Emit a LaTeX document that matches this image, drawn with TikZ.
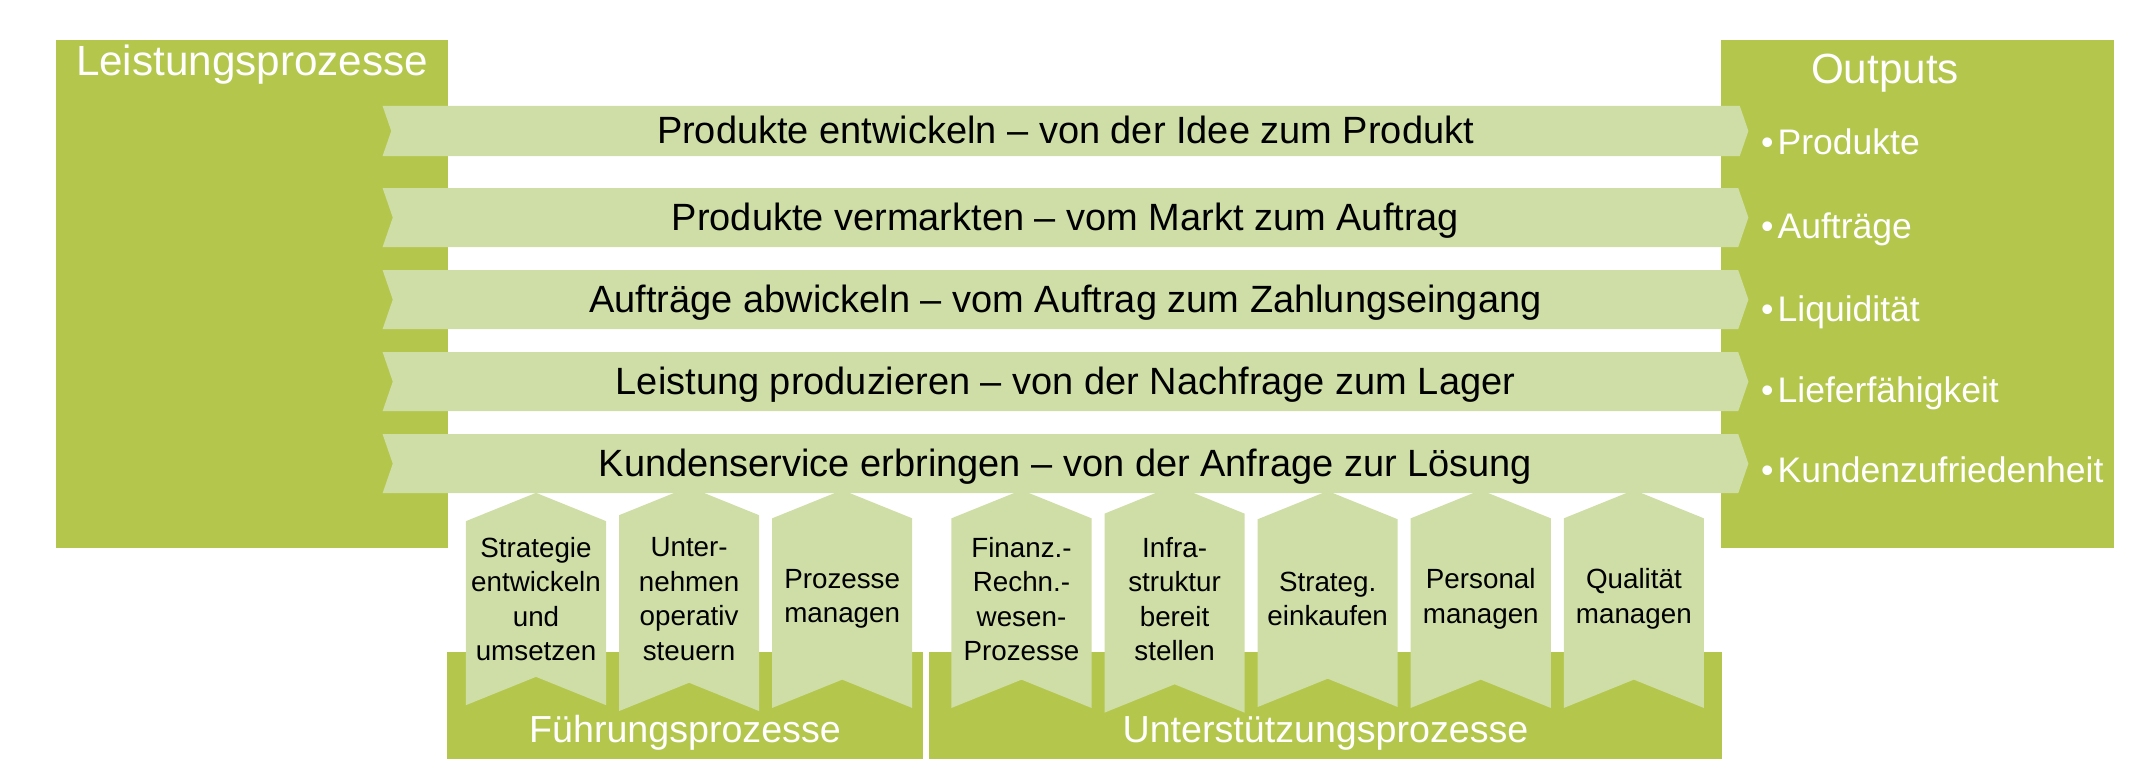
\documentclass[tikz,border=0pt]{standalone}
\usepackage{fontspec}
\setmainfont{Liberation Sans}
\usetikzlibrary{shapes.symbols,positioning}
\definecolor{procgreen}{RGB}{180,199,76}
\definecolor{flowgreen}{RGB}{206,222,166}

\begin{document}
\begin{tikzpicture}[
  x=0.01cm, y=-0.01cm,
  inner sep=0pt, outer sep=0pt,
  procarea/.style={fill=procgreen, minimum width=3.92cm, minimum height=5.08cm},
  groupbase/.style={fill=procgreen, minimum height=1.07cm},
  flow/.style={shape=signal, signal to=east, signal from=west, signal pointer angle=142,
               fill=flowgreen, minimum width=13.65cm, minimum height=0.59cm,
               font=\fontsize{10.8}{12}\selectfont, text height=0.716em, text depth=0pt},
  subproc/.style={shape=signal, signal to=north, signal from=south, signal pointer angle=136,
                  fill=flowgreen, minimum width=1.4cm, minimum height=2.08cm, align=center,
                  font=\fontsize{7.9}{9.8}\selectfont},
  areatitle/.style={text=white, font=\fontsize{12}{14}\selectfont, text height=0.716em, text depth=0pt},
  outitem/.style={text=white, anchor=base west, font=\fontsize{10.1}{12}\selectfont},
  grouplbl/.style={text=white, font=\fontsize{10.7}{12}\selectfont, text height=0.716em, text depth=0pt},
  ]
  \useasboundingbox (0,0) rectangle (2154,777);

  % green areas
  \node[procarea] (leist) at (252,294) {};
  \node[procarea] (outputs) at (1917.5,294) {};
  \node[groupbase, minimum width=4.76cm] (fbase) at (685,705.5) {};
  \node[groupbase, minimum width=7.93cm] (ubase) at (1325.5,705.5) {};

  % core processes
  \node[flow, minimum height=0.5cm] (p1) at (1065.5,131) {Produkte entwickeln -- von der Idee zum Produkt};
  \node[flow, below=0.32cm of p1] (p2) {Produkte vermarkten -- vom Markt zum Auftrag};
  \node[flow, below=0.23cm of p2] (p3) {Aufträge abwickeln -- vom Auftrag zum Zahlungseingang};
  \node[flow, below=0.23cm of p3] (p4) {Leistung produzieren -- von der Nachfrage zum Lager};
  \node[flow, below=0.23cm of p4] (p5) {Kundenservice erbringen -- von der Anfrage zur Lösung};

  % management processes
  \node[subproc] (f1) at (536,599) {Strategie\\entwickeln\\und\\umsetzen};
  \node[subproc, right=0.13cm of f1] (f2) {Unter-\\nehmen\\operativ\\steuern};
  \node[subproc, right=0.13cm of f2] (f3) {Prozesse\\managen};

  % support processes
  \node[subproc] (u1) at (1021.5,599) {Finanz.-\\Rechn.-\\wesen-\\Prozesse};
  \node[subproc, right=0.13cm of u1] (u2) {Infra-\\struktur\\bereit\\stellen};
  \node[subproc, right=0.13cm of u2] (u3) {Strateg.\\einkaufen};
  \node[subproc, right=0.13cm of u3] (u4) {Personal\\managen};
  \node[subproc, right=0.13cm of u4] (u5) {Qualität\\managen};

  % labels
  \node[areatitle] (leistlbl) at (252,63) {Leistungsprozesse};
  \node[areatitle] (outlbl) at (1885,71) {Outputs};
  \node[grouplbl] (flbl) at (685,730) {Führungsprozesse};
  \node[grouplbl] (ulbl) at (1325.5,730) {Unterstützungsprozesse};

  \node[outitem] (o1) at (1761,155) {•\kern0.12em Produkte};
  \node[outitem] (o2) at (1761,239) {•\kern0.12em Aufträge};
  \node[outitem] (o3) at (1761,322) {•\kern0.12em Liquidität};
  \node[outitem] (o4) at (1761,403) {•\kern0.12em Lieferfähigkeit};
  \node[outitem] (o5) at (1761,483) {•\kern0.12em Kundenzufriedenheit};
\end{tikzpicture}
\end{document}
